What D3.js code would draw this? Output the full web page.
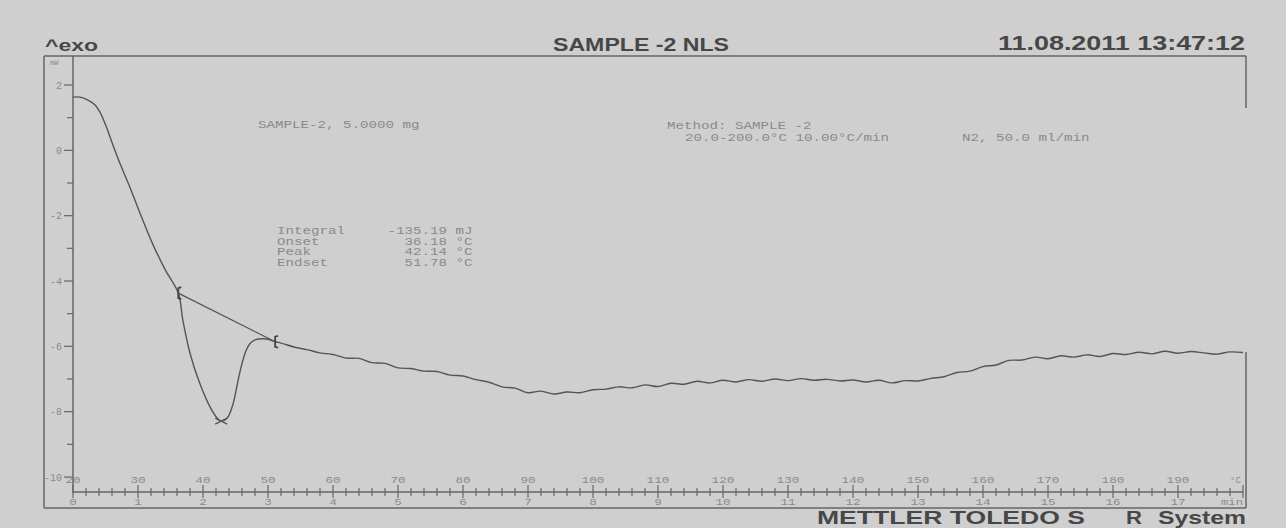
<!DOCTYPE html>
<html>
<head>
<meta charset="utf-8">
<script src="https://cdnjs.cloudflare.com/ajax/libs/d3/7.8.5/d3.min.js"></script>
<style>
  body { margin: 0; background: #cfcfcf; }
  svg { display: block; }
  .mono { font-family: "Liberation Mono", "DejaVu Sans Mono", monospace; fill: #8a8a8a; white-space: pre; }
  .head { font-family: "Liberation Sans", Arial, sans-serif; font-weight: bold; fill: #474747; }
</style>
</head>
<body>
<div id="chartDiv"></div>
<script>
/* DSC curve, Mettler Toledo STARe printout */

// time in min, heat flow in mW
var timeMin = [0.00, 0.11, 0.23, 0.34, 0.43, 0.52, 0.62, 0.72, 0.88, 1.03, 1.22, 1.42, 1.62,
     1.69, 1.80, 1.95, 2.11, 2.22, 2.28, 2.37, 2.46, 2.54, 2.60, 2.66, 2.72, 2.80, 2.92, 3.03, 3.11,
     3.2, 3.4, 3.6, 3.8, 4.0, 4.2, 4.4, 4.6, 4.8, 5.0, 5.2, 5.4, 5.6, 5.8, 6.0, 6.2, 6.4, 6.6,
     6.8, 7.0, 7.2, 7.4, 7.6, 7.8, 8.0, 8.2, 8.4, 8.6, 8.8, 9.0, 9.2, 9.4, 9.6, 9.8, 10.0,
     10.2, 10.4, 10.6, 10.8, 11.0, 11.2, 11.4, 11.6, 11.8, 12.0, 12.2, 12.4, 12.6, 12.8, 13.0,
     13.2, 13.4, 13.6, 13.8, 14.0, 14.2, 14.4, 14.6, 14.8, 15.0, 15.2, 15.4, 15.6, 15.8, 16.0,
     16.2, 16.4, 16.6, 16.8, 17.0, 17.2, 17.4, 17.6, 17.8, 18.0];
var heatFlow = [1.63, 1.63, 1.54, 1.39, 1.11, 0.68, 0.13, -0.39, -1.15, -1.92, -2.84, -3.66, -4.37,
     -5.20, -6.21, -7.13, -7.86, -8.20, -8.29, -8.20, -7.78, -7.04, -6.52, -6.14, -5.92, -5.80, -5.77, -5.80, -5.86,
     -5.90, -6.02, -6.10, -6.20, -6.25, -6.36, -6.37, -6.50, -6.52, -6.66, -6.68, -6.76, -6.77, -6.88, -6.91, -7.02, -7.10, -7.24,
     -7.28, -7.42, -7.37, -7.46, -7.40, -7.42, -7.33, -7.31, -7.24, -7.27, -7.18, -7.23, -7.13, -7.16, -7.07, -7.12, -7.04,
     -7.09, -7.02, -7.07, -7.00, -7.05, -6.99, -7.04, -7.01, -7.06, -7.03, -7.09, -7.04, -7.12, -7.05, -7.06,
     -6.98, -6.93, -6.80, -6.76, -6.62, -6.57, -6.43, -6.42, -6.33, -6.38, -6.29, -6.33, -6.26, -6.31, -6.22,
     -6.25, -6.18, -6.23, -6.15, -6.21, -6.16, -6.20, -6.24, -6.17, -6.19];

// integration limits and peak
var limitTime = [1.62, 3.11];
var limitFlow = [-4.37, -5.86];
var peakTime = 2.28;
var peakFlow = -8.29;

// axis labels
var yTicks = [2, 0, -2, -4, -6, -8, -10];
var tempTicks = [20, 30, 40, 50, 60, 70, 80, 90, 100, 110, 120, 130, 140, 150, 160, 170, 180, 190];
var timeTicks = [0, 1, 2, 3, 4, 5, 6, 7, 8, 9, 10, 11, 12, 13, 14, 15, 16, 17];

var sampleText = "SAMPLE-2, 5.0000 mg";
var methodText = ["Method: SAMPLE -2", "20.0-200.0°C 10.00°C/min"];
var gasText = "N2, 50.0 ml/min";
var resultText = ["Integral     -135.19 mJ",
                  "Onset          36.18 °C",
                  "Peak           42.14 °C",
                  "Endset         51.78 °C"];

let W = 1286, H = 528;
let frame = {left: 44, top: 56, right: 1246, bottom: 508};
let charW = 8.5;     // printer font pitch
let tickCharW = 7.6;

let svg = d3.select("#chartDiv")
     .append("svg")
     .attr("width", W)
     .attr("height", H);

svg.append("rect").attr("width", W).attr("height", H).attr("fill", "#cfcfcf");

// Scales: 10 K/min so both x axes share one range
let scaleX = d3.scaleLinear().domain([0, 18]).range([73, 1243]);
let scaleT = d3.scaleLinear().domain([20, 200]).range([73, 1243]);
let scaleY = d3.scaleLinear().domain([-10, 2]).range([477, 85]);

// Frame (right edge faded in the middle on the scan)
let frameLines = [
     [frame.left, frame.top, frame.right, frame.top],
     [frame.left, frame.top, frame.left, frame.bottom],
     [frame.left, frame.bottom, frame.right, frame.bottom],
     [frame.right, frame.top, frame.right, 108],
     [frame.right, 352, frame.right, frame.bottom]];
svg.selectAll(".frame")
     .data(frameLines)
     .enter()
     .append("line")
       .attr("x1", function(d) { return d[0]; })
       .attr("y1", function(d) { return d[1]; })
       .attr("x2", function(d) { return d[2]; })
       .attr("y2", function(d) { return d[3]; })
       .attr("stroke", "#666")
       .attr("stroke-width", 1.5);

// Headings (print is stretched sideways, so glyphs get stretched too)
function heading(txt, x, y, size, len) {
     return svg.append("text").attr("class", "head")
          .attr("x", x).attr("y", y)
          .attr("font-size", size)
          .attr("textLength", len)
          .attr("lengthAdjust", "spacingAndGlyphs")
          .text(txt);
}
heading("^exo", 45, 51, 17, 53);
heading("SAMPLE -2 NLS", 553, 51, 18, 176);
heading("11.08.2011 13:47:12", 998, 50, 20, 247);
heading("METTLER TOLEDO S", 817, 524, 18.5, 268);
heading("R", 1126, 524, 18.5, 16);
heading("System", 1158, 524, 18.5, 88);

// y axis: line, ticks at every mW, labels on even ones
svg.append("line")
     .attr("x1", 73).attr("x2", 73)
     .attr("y1", frame.top).attr("y2", 493)
     .attr("stroke", "#666").attr("stroke-width", 1.5);

let yAll = d3.range(-10, 3, 1);
svg.selectAll(".ytick")
     .data(yAll)
     .enter()
     .append("line")
       .attr("x1", function(d) { return d % 2 == 0 ? 64 : 67; })
       .attr("x2", 73)
       .attr("y1", function(d) { return scaleY(d); })
       .attr("y2", function(d) { return scaleY(d); })
       .attr("stroke", "#666").attr("stroke-width", 1.2);

svg.selectAll(".ylab")
     .data(yTicks)
     .enter()
     .append("text")
       .attr("class", "mono")
       .attr("text-anchor", "end")
       .attr("x", 62)
       .attr("y", function(d) { return scaleY(d) + 3.5; })
       .attr("font-size", 10)
       .text(function(d) { return d; });

svg.append("text").attr("class", "mono")
     .attr("x", 50).attr("y", 65)
     .attr("font-size", 7)
     .text("mW");

// x axis: line with ticks every 0.2 min
svg.append("line")
     .attr("x1", 73).attr("x2", 1243)
     .attr("y1", 492).attr("y2", 492)
     .attr("stroke", "#666").attr("stroke-width", 1.3);

let xAll = d3.range(0, 91).map(function(i) { return i / 5; });
svg.selectAll(".xtick")
     .data(xAll)
     .enter()
     .append("line")
       .attr("x1", function(d) { return scaleX(d); })
       .attr("x2", function(d) { return scaleX(d); })
       .attr("y1", function(d, i) { return i % 5 == 0 ? 485 : 488; })
       .attr("y2", function(d, i) { return i % 5 == 0 ? 498 : 496; })
       .attr("stroke", "#666").attr("stroke-width", 1.2);

function tickLabel(sel, scale, y) {
     sel.enter()
        .append("text")
          .attr("class", "mono")
          .attr("x", function(d) { return scale(d) - String(d).length * tickCharW / 2; })
          .attr("y", y)
          .attr("font-size", 9)
          .attr("textLength", function(d) { return String(d).length * tickCharW; })
          .attr("lengthAdjust", "spacingAndGlyphs")
          .text(function(d) { return d; });
}
tickLabel(svg.selectAll(".tlab").data(tempTicks), scaleT, 483);
tickLabel(svg.selectAll(".mlab").data(timeTicks), scaleX, 505);

svg.append("text").attr("class", "mono")
     .attr("x", 1230).attr("y", 483).attr("font-size", 9).text("°C");
svg.append("text").attr("class", "mono")
     .attr("x", 1221).attr("y", 505).attr("font-size", 9)
     .attr("textLength", 22).attr("lengthAdjust", "spacingAndGlyphs").text("min");

// Annotation text in printer font
function printLine(txt, x, y) {
     return svg.append("text").attr("class", "mono")
          .attr("x", x).attr("y", y)
          .attr("font-size", 10.5)
          .attr("textLength", txt.length * charW)
          .attr("lengthAdjust", "spacingAndGlyphs")
          .text(txt);
}
printLine(sampleText, 258, 128);
printLine(methodText[0], 667, 129);
printLine(methodText[1], 685, 141);
printLine(gasText, 962, 141);
resultText.forEach(function(d, i) { printLine(d, 277, 234 + i * 10.7); });

// Curve
let line = d3.line()
     .x(function(d) { return scaleX(d[0]); })
     .y(function(d) { return scaleY(d[1]); })
     .curve(d3.curveCatmullRom.alpha(0.5));

svg.append("path")
     .datum(d3.zip(timeMin, heatFlow))
     .attr("d", line)
     .attr("fill", "none")
     .attr("stroke", "#555")
     .attr("stroke-width", 1.4);

// Integration baseline
svg.append("line")
     .attr("x1", scaleX(limitTime[0])).attr("y1", scaleY(limitFlow[0]))
     .attr("x2", scaleX(limitTime[1])).attr("y2", scaleY(limitFlow[1]))
     .attr("stroke", "#555").attr("stroke-width", 1.3);

// Limit markers (small brackets)
svg.selectAll(".limit")
     .data(d3.zip(limitTime, limitFlow))
     .enter()
     .append("path")
       .attr("transform", function(d) { return "translate(" + scaleX(d[0]) + "," + scaleY(d[1]) + ")"; })
       .attr("d", "M3,-6 L0,-5 L0,5 L3,6")
       .attr("fill", "none")
       .attr("stroke", "#444")
       .attr("stroke-width", 1.8);

// Peak cross
svg.append("path")
     .attr("transform", "translate(" + scaleX(peakTime) + "," + scaleY(peakFlow) + ")")
     .attr("d", "M-6,-3 L6,3 M-6,3 L6,-3")
     .attr("stroke", "#555")
     .attr("stroke-width", 1.2);
</script>
</body>
</html>
